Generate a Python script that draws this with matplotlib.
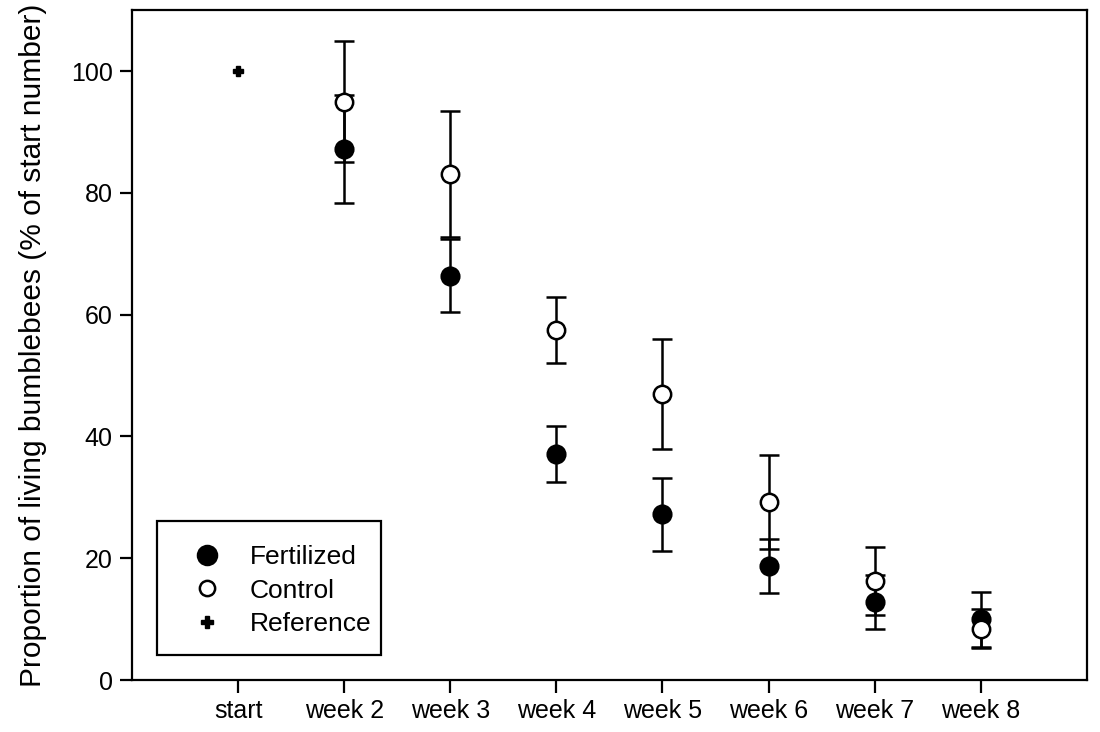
import numpy as np
import matplotlib
matplotlib.use("Agg")
import matplotlib.pyplot as plt
from matplotlib.patches import Rectangle

plt.rcParams['font.family'] = ['Liberation Sans', 'DejaVu Sans']

# data
labels = ["start", "week 2", "week 3", "week 4", "week 5", "week 6", "week 7", "week 8"]
weeks = np.arange(1, 8)
fert_mean = [87.2, 66.4, 37.2, 27.2, 18.7, 12.8, 10.0]
fert_err = [8.8, 6.0, 4.6, 6.0, 4.4, 4.4, 4.5]
ctrl_mean = [95.0, 83.1, 57.5, 47.0, 29.3, 16.2, 8.4]
ctrl_err = [10.0, 10.3, 5.4, 9.0, 7.7, 5.6, 3.2]
ref_x = [0]
ref_y = [100.0]

fig = plt.figure(figsize=(11, 7.32), dpi=100)
ax = fig.add_axes([0.12, 0.071, 0.868, 0.915])

ekw = dict(fmt='none', ecolor='black', elinewidth=1.8, capsize=7.5, capthick=1.8, zorder=2)
ax.errorbar(weeks, ctrl_mean, yerr=ctrl_err, **ekw)
ax.errorbar(weeks, fert_mean, yerr=fert_err, **ekw)

ax.plot(weeks, fert_mean, 'o', ms=13, mfc='black', mec='black', mew=1.5,
        ls='none', zorder=3, label='Fertilized')
ax.plot(weeks, ctrl_mean, 'o', ms=12.5, mfc='white', mec='black', mew=1.8,
        ls='none', zorder=4, label='Control')
ax.plot(ref_x, ref_y, 'P', ms=7.5, mfc='black', mec='black', ls='none',
        zorder=4, label='Reference')

ax.set_xlim(-1, 8)
ax.set_ylim(0, 110)
ax.set_xticks(range(len(labels)))
ax.set_xticklabels(labels)
ax.set_yticks([0, 20, 40, 60, 80, 100])
ax.tick_params(direction='out', length=9, width=1.6, labelsize=18, pad=5)
for s in ax.spines.values():
    s.set_linewidth(1.6)

ax.set_ylabel("Proportion of living bumblebees (% of start number)", fontsize=21.5, labelpad=17)

# legend without its own frame, box drawn separately (uneven padding)
leg = ax.legend(loc='upper left', bbox_to_anchor=(0.0513, 0.2015), fontsize=19,
                frameon=False, borderpad=0, handletextpad=0.62,
                labelspacing=0.36, borderaxespad=0, handlelength=2.0)
for h, ms in zip(leg.legend_handles, [14, 11, 8]):
    h.set_markersize(ms)
ax.add_patch(Rectangle((0.026, 0.0373), 0.2346, 0.2, transform=ax.transAxes,
                       fill=False, edgecolor='black', linewidth=1.6, zorder=5))

fig.savefig("out.png", dpi=100)
